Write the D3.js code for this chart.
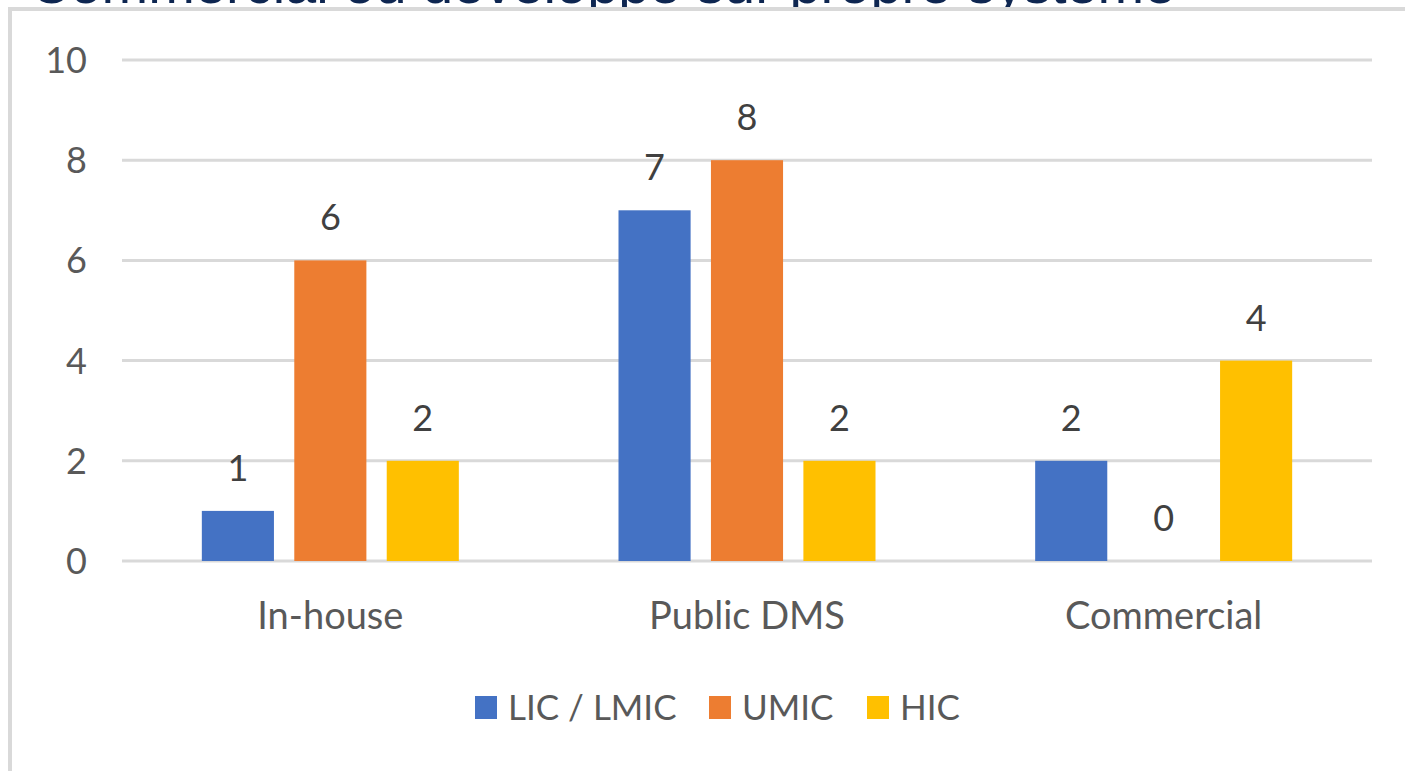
<!DOCTYPE html>
<html>
<head>
<meta charset="utf-8">
<script src="https://cdn.jsdelivr.net/npm/d3@7"></script>
<style>
  html, body { margin: 0; padding: 0; background: #fff; overflow: hidden; }
  svg { display: block; }
</style>
</head>
<body>
<div id="chart"></div>
<script>
// Grouped bars: DMS type by income group

const categories = ['In-house', 'Public DMS', 'Commercial'];
const seriesNames = ['LIC / LMIC', 'UMIC', 'HIC'];
const lic = [1, 7, 2];
const umic = [6, 8, 0];
const hic = [2, 2, 4];
const yTicks = [0, 2, 4, 6, 8, 10];
const titleText = 'Commercial ou développé sur propre système';

const colors = ['#4472C4', '#ED7D31', '#FFC000'];
const values = [lic, umic, hic];

const width = 1405;
const height = 771;
const margin = { top: 60, right: 33, bottom: 210, left: 122 };

const svg = d3.select('#chart')
  .append('svg')
  .attr('width', width)
  .attr('height', height);

// slide title, mostly hidden above the chart frame
svg.append('text')
  .attr('x', 30)
  .attr('y', 3)
  .attr('font-family', 'Liberation Sans, Arial, sans-serif')
  .attr('font-size', 56)
  .attr('fill', '#0e2651')
  .text(titleText);

// chart frame (runs off the right and bottom edges)
svg.append('rect')
  .attr('x', 10)
  .attr('y', 9)
  .attr('width', width + 20)
  .attr('height', height + 20)
  .attr('fill', '#fff')
  .attr('stroke', '#d9d9d9')
  .attr('stroke-width', 4);

const x0 = d3.scaleBand()
  .domain(categories)
  .range([margin.left, width - margin.right]);

const groupW = 257;
const x1 = d3.scaleBand()
  .domain(seriesNames)
  .range([0, groupW])
  .paddingInner(0.22);

const y = d3.scaleLinear()
  .domain([0, 10])
  .range([height - margin.bottom, margin.top]);

const font = 'Lato, "Open Sans", sans-serif';
const textColor = '#595959';

// gridlines
svg.append('g')
  .selectAll('line')
  .data(yTicks)
  .enter().append('line')
  .attr('x1', margin.left)
  .attr('x2', width - margin.right)
  .attr('y1', d => y(d))
  .attr('y2', d => y(d))
  .attr('stroke', '#d9d9d9')
  .attr('stroke-width', 3);

// y tick labels
svg.append('g')
  .selectAll('text')
  .data(yTicks)
  .enter().append('text')
  .attr('x', 87)
  .attr('y', d => y(d))
  .attr('dy', '0.36em')
  .attr('text-anchor', 'end')
  .attr('font-family', font)
  .attr('font-size', 36)
  .attr('fill', textColor)
  .text(d => d);

// bars
const groups = svg.append('g')
  .selectAll('g')
  .data(categories)
  .enter().append('g')
  .attr('transform', c => `translate(${x0(c) + (x0.bandwidth() - groupW) / 2},0)`);

groups.selectAll('rect')
  .data((c, i) => seriesNames.map((s, j) => ({ s, j, v: values[j][i] })))
  .enter().append('rect')
  .attr('x', d => x1(d.s))
  .attr('y', d => y(d.v))
  .attr('width', x1.bandwidth())
  .attr('height', d => y(0) - y(d.v))
  .attr('fill', d => colors[d.j]);

groups.selectAll('text')
  .data((c, i) => seriesNames.map((s, j) => ({ s, j, v: values[j][i] })))
  .enter().append('text')
  .attr('x', d => x1(d.s) + x1.bandwidth() / 2)
  .attr('y', d => y(d.v) - 30)
  .attr('text-anchor', 'middle')
  .attr('font-family', font)
  .attr('font-size', 36)
  .attr('fill', '#404040')
  .text(d => d.v);

// category labels
svg.append('g')
  .selectAll('text')
  .data(categories)
  .enter().append('text')
  .attr('x', c => x0(c) + x0.bandwidth() / 2)
  .attr('y', 629)
  .attr('text-anchor', 'middle')
  .attr('font-family', font)
  .attr('font-size', 38)
  .attr('fill', textColor)
  .text(c => c);

// legend
const legendX = [475, 709, 867];
const legend = svg.append('g')
  .selectAll('g')
  .data(seriesNames)
  .enter().append('g')
  .attr('transform', (s, i) => `translate(${legendX[i]},696)`);

legend.append('rect')
  .attr('width', 22)
  .attr('height', 23)
  .attr('fill', (s, i) => colors[i]);

legend.append('text')
  .attr('x', 33)
  .attr('y', 24)
  .attr('font-family', font)
  .attr('font-size', 35)
  .attr('fill', textColor)
  .text(s => s);
</script>
</body>
</html>
